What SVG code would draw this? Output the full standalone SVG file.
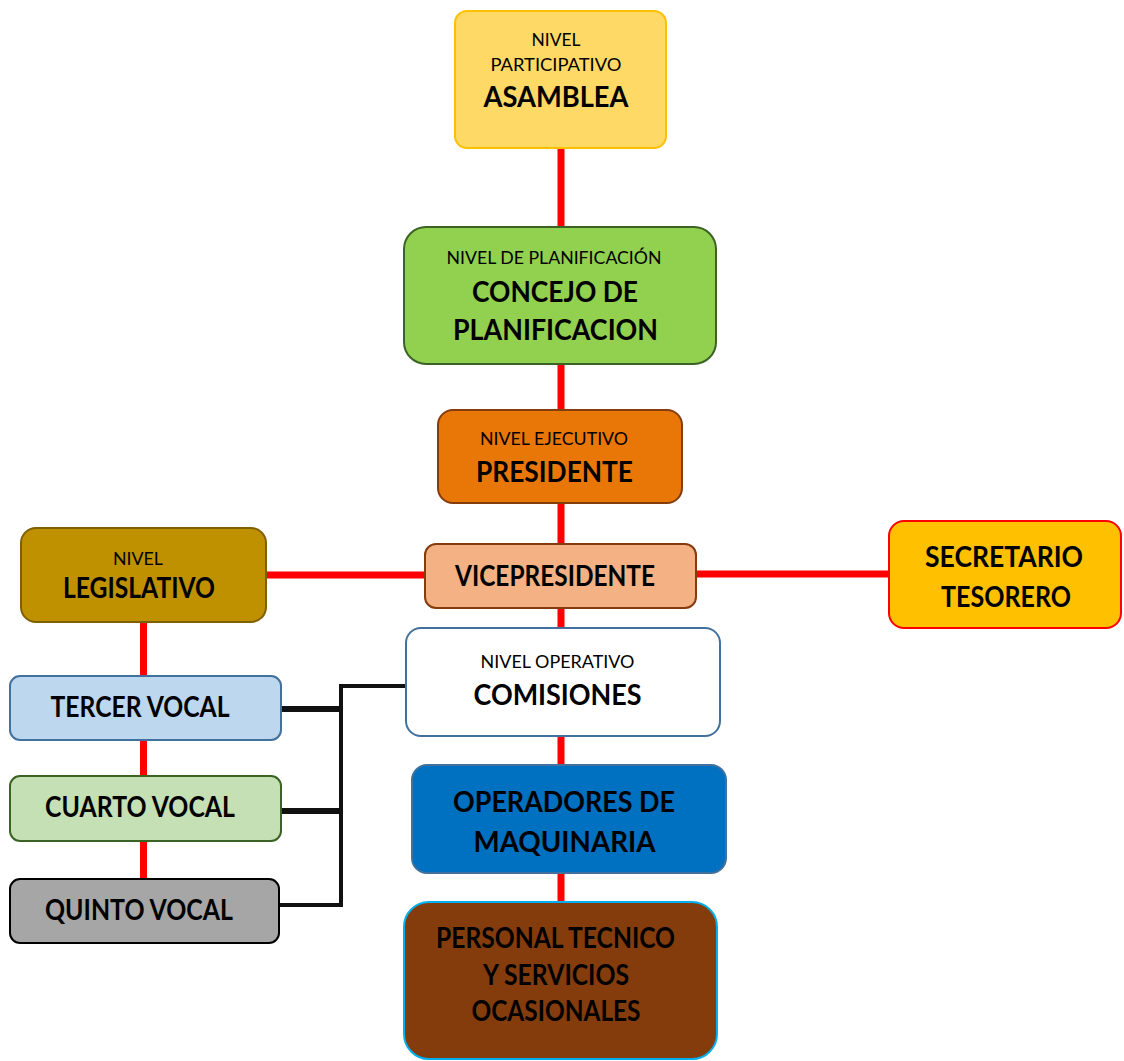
<svg xmlns="http://www.w3.org/2000/svg" width="1124" height="1061" viewBox="0 0 1124 1061">
<style>
text{font-family:Lato,"Liberation Sans",sans-serif;fill:#000;text-anchor:middle}
.s{font-size:18px}
.b{font-size:28px;font-weight:bold}
.red{stroke:#FF0000;stroke-width:7;fill:none}
.blk{stroke:#111;fill:none}
</style>
<rect width="1124" height="1061" fill="#fff"/>
<g id="connectors">
<line class="red" x1="561" y1="148" x2="561" y2="227"/>
<line class="red" x1="561" y1="364" x2="561" y2="410"/>
<line class="red" x1="561" y1="503" x2="561" y2="544"/>
<line class="red" x1="561" y1="608" x2="561" y2="628"/>
<line class="red" x1="561" y1="736" x2="561" y2="765"/>
<line class="red" x1="561" y1="873" x2="561" y2="902"/>
<line class="red" x1="266" y1="575" x2="425" y2="575"/>
<line class="red" x1="696" y1="574" x2="889" y2="574"/>
<line class="red" x1="143.5" y1="622" x2="143.5" y2="676"/>
<line class="red" x1="143.5" y1="740" x2="143.5" y2="776"/>
<line class="red" x1="143.5" y1="841" x2="143.5" y2="879"/>
<polyline class="blk" stroke-width="4" points="406,686 341,686 341,905 279,905"/>
<line class="blk" stroke-width="6" x1="281" y1="709" x2="341" y2="709"/>
<line class="blk" stroke-width="6" x1="281" y1="811" x2="341" y2="811"/>
</g>
<g id="asamblea">
<rect x="455" y="11" width="211" height="137" rx="12" fill="#FFD966" stroke="#FFC000" stroke-width="2"/>
<text class="s" x="556" y="46" textLength="49" lengthAdjust="spacingAndGlyphs">NIVEL</text>
<text class="s" x="556" y="71" textLength="131" lengthAdjust="spacingAndGlyphs">PARTICIPATIVO</text>
<text class="b" x="556" y="107" textLength="145" lengthAdjust="spacingAndGlyphs">ASAMBLEA</text>
</g>
<g id="concejo">
<rect x="404" y="227" width="312" height="137" rx="22" fill="#92D050" stroke="#3B6324" stroke-width="2"/>
<text class="s" x="554" y="264" textLength="215" lengthAdjust="spacingAndGlyphs">NIVEL DE PLANIFICACIÓN</text>
<text class="b" x="555" y="302" textLength="166" lengthAdjust="spacingAndGlyphs">CONCEJO DE</text>
<text class="b" x="555.5" y="340" textLength="205" lengthAdjust="spacingAndGlyphs">PLANIFICACION</text>
</g>
<g id="presidente">
<rect x="438" y="410" width="244" height="93" rx="15" fill="#E97708" stroke="#843C0C" stroke-width="2"/>
<text class="s" x="554" y="445" textLength="148" lengthAdjust="spacingAndGlyphs">NIVEL EJECUTIVO</text>
<text class="b" x="554.5" y="482" textLength="157" lengthAdjust="spacingAndGlyphs">PRESIDENTE</text>
</g>
<g id="vicepresidente">
<rect x="425" y="544" width="271" height="64" rx="11" fill="#F4B183" stroke="#843C0C" stroke-width="2"/>
<text class="b" x="555" y="586" textLength="200" lengthAdjust="spacingAndGlyphs">VICEPRESIDENTE</text>
</g>
<g id="secretario">
<rect x="889" y="521" width="232" height="107" rx="15" fill="#FFC000" stroke="#FF0000" stroke-width="2"/>
<text class="b" x="1004" y="567" textLength="158" lengthAdjust="spacingAndGlyphs">SECRETARIO</text>
<text class="b" x="1006" y="607" textLength="130" lengthAdjust="spacingAndGlyphs">TESORERO</text>
</g>
<g id="legislativo">
<rect x="21" y="528" width="245" height="94" rx="15" fill="#BF9000" stroke="#7F6000" stroke-width="2"/>
<text class="s" x="138" y="565" textLength="50" lengthAdjust="spacingAndGlyphs">NIVEL</text>
<text class="b" x="139" y="598" textLength="152" lengthAdjust="spacingAndGlyphs">LEGISLATIVO</text>
</g>
<g id="comisiones">
<rect x="406" y="628" width="314" height="108" rx="15" fill="#FFFFFF" stroke="#41719C" stroke-width="2"/>
<text class="s" x="557.5" y="668" textLength="154" lengthAdjust="spacingAndGlyphs">NIVEL OPERATIVO</text>
<text class="b" x="557.5" y="705" textLength="168" lengthAdjust="spacingAndGlyphs">COMISIONES</text>
</g>
<g id="tercer">
<rect x="10" y="676" width="271" height="64" rx="10" fill="#BDD7EE" stroke="#41719C" stroke-width="2"/>
<text class="b" x="140" y="717" textLength="179" lengthAdjust="spacingAndGlyphs">TERCER VOCAL</text>
</g>
<g id="cuarto">
<rect x="10" y="776" width="271" height="65" rx="10" fill="#C5E0B4" stroke="#3B6324" stroke-width="2"/>
<text class="b" x="140" y="817" textLength="190" lengthAdjust="spacingAndGlyphs">CUARTO VOCAL</text>
</g>
<g id="quinto">
<rect x="10" y="879" width="269" height="64" rx="10" fill="#A6A6A6" stroke="#000" stroke-width="2"/>
<text class="b" x="139" y="920" textLength="188" lengthAdjust="spacingAndGlyphs">QUINTO VOCAL</text>
</g>
<g id="operadores">
<rect x="412" y="765" width="314" height="108" rx="15" fill="#0070C0" stroke="#41719C" stroke-width="2"/>
<text class="b" x="564" y="812" textLength="222" lengthAdjust="spacingAndGlyphs">OPERADORES DE</text>
<text class="b" x="564.5" y="852" textLength="182" lengthAdjust="spacingAndGlyphs">MAQUINARIA</text>
</g>
<g id="personal">
<rect x="404" y="902" width="313" height="157" rx="25" fill="#843C0C" stroke="#00B0F0" stroke-width="2"/>
<text class="b" x="555.5" y="948" textLength="239" lengthAdjust="spacingAndGlyphs">PERSONAL TECNICO</text>
<text class="b" x="556" y="985" textLength="146" lengthAdjust="spacingAndGlyphs">Y SERVICIOS</text>
<text class="b" x="556" y="1021" textLength="169" lengthAdjust="spacingAndGlyphs">OCASIONALES</text>
</g>
</svg>
